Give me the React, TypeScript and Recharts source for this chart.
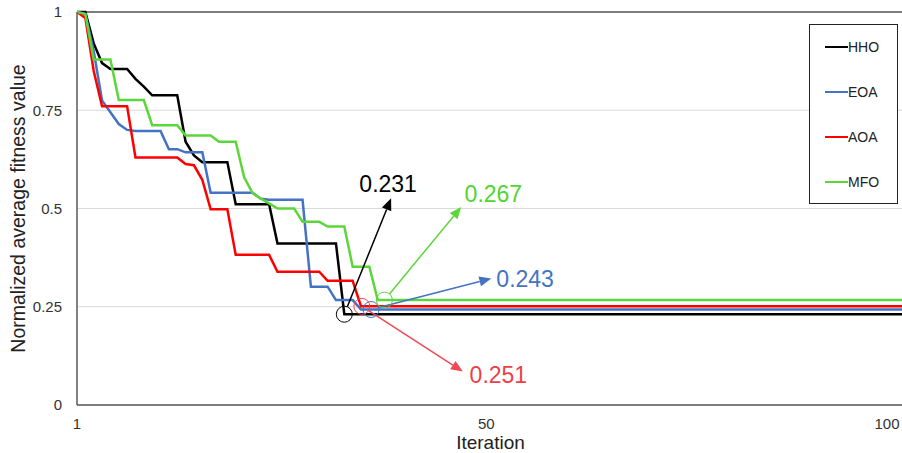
import {
  LineChart,
  Line,
  XAxis,
  YAxis,
  CartesianGrid,
  ReferenceLine,
  ReferenceDot,
  Legend,
} from "recharts";

const ITERATION_TICKS = [1, 50, 100];
const FITNESS_TICKS = [0, 0.25, 0.5, 0.75, 1];

// [iteration, normalized average fitness] break points
const HHO: [number, number][] = [
  [1, 1], [2, 1], [3, 0.92], [4, 0.87], [5, 0.855], [7, 0.855], [8, 0.83],
  [9, 0.81], [10, 0.788], [13, 0.788], [14, 0.67], [15, 0.635], [16, 0.618],
  [19, 0.618], [20, 0.511], [24, 0.511], [25, 0.411], [32, 0.411],
  [33, 0.231], [100, 0.231],
];
const EOA: [number, number][] = [
  [1, 1], [2, 0.995], [3, 0.9], [4, 0.775], [5, 0.745], [6, 0.715],
  [7, 0.7], [8, 0.697], [11, 0.697], [12, 0.651], [13, 0.651], [14, 0.643],
  [16, 0.643], [17, 0.54], [22, 0.54], [23, 0.525], [24, 0.522], [28, 0.522],
  [29, 0.301], [31, 0.301], [32, 0.267], [34, 0.267], [35, 0.243],
  [100, 0.243],
];
const AOA: [number, number][] = [
  [1, 1], [2, 0.985], [3, 0.85], [4, 0.76], [7, 0.76], [8, 0.63], [13, 0.63],
  [14, 0.613], [15, 0.61], [16, 0.573], [17, 0.498], [19, 0.498],
  [20, 0.382], [24, 0.382], [25, 0.339], [30, 0.339], [31, 0.316],
  [34, 0.316], [35, 0.251], [100, 0.251],
];
const MFO: [number, number][] = [
  [1, 1], [2, 0.995], [3, 0.879], [5, 0.879], [6, 0.776], [9, 0.776],
  [10, 0.712], [13, 0.712], [14, 0.686], [17, 0.686], [18, 0.67], [20, 0.67],
  [21, 0.58], [22, 0.54], [23, 0.525], [24, 0.513], [25, 0.5], [27, 0.5],
  [28, 0.466], [30, 0.466], [31, 0.454], [33, 0.454], [34, 0.352],
  [36, 0.352], [37, 0.267], [100, 0.267],
];

// best value reached by each algorithm, and the iteration where it is circled
const BEST_VALUES = [0.231, 0.243, 0.251, 0.267];
const BEST_AT = [33, 36.2, 35.1, 37.8];
const NAMES = ["HHO", "EOA", "AOA", "MFO"];

const SERIES = [
  { name: "HHO", points: HHO, color: "#000000" },
  { name: "EOA", points: EOA, color: "#4472C4" },
  { name: "AOA", points: AOA, color: "#FF0000" },
  { name: "MFO", points: MFO, color: "#5DD63C" },
];

// call-out layout: arrow tip and label corner, in axis units
const CALLOUTS = [
  { tip: [38.6, 0.526], label: [34.8, 0.543], color: "#000000", text: "#000000" },
  { tip: [50.6, 0.322], label: [51.2, 0.301], color: "#4472C4", text: "#4472C4" },
  { tip: [47.2, 0.085], label: [48.0, 0.055], color: "#EE4A52", text: "#EE3F48" },
  { tip: [47.0, 0.504], label: [47.4, 0.517], color: "#5DD63C", text: "#4FD62F" },
];

const FONT = "'Liberation Sans', Arial, sans-serif";

const toRows = (pts: [number, number][]) => pts.map(([it, v]) => ({ it, v }));

const arrowShape = (color: string) => (props: any) => {
  const { x1, y1, x2, y2 } = props;
  const dx = x2 - x1;
  const dy = y2 - y1;
  const len = Math.hypot(dx, dy) || 1;
  const ux = dx / len;
  const uy = dy / len;
  const gap = 8;
  const head = 12;
  const half = 5;
  const bx = x2 - ux * head;
  const by = y2 - uy * head;
  return (
    <g>
      <line
        x1={x1 + ux * gap}
        y1={y1 + uy * gap}
        x2={bx}
        y2={by}
        stroke={color}
        strokeWidth={1.5}
      />
      <polygon
        points={`${x2},${y2} ${bx - uy * half},${by + ux * half} ${bx + uy * half},${by - ux * half}`}
        fill={color}
      />
    </g>
  );
};

const labelShape = (text: string, color: string) => (props: any) => (
  <text
    x={props.cx}
    y={props.cy}
    fill={color}
    fontSize={23}
    fontFamily={FONT}
    textAnchor="start"
  >
    {text}
  </text>
);

// last label is pulled inside the frame, as the source does
const IterationTick = (props: any) => {
  const { x, y, payload } = props;
  const shift = payload.value === 100 ? -17 : 0;
  return (
    <text
      x={x + shift}
      y={y}
      dy="0.71em"
      textAnchor="middle"
      fontSize={15}
      fontFamily={FONT}
      fill="#333"
    >
      {payload.value}
    </text>
  );
};

const YTitle = (props: any) => {
  const { viewBox } = props;
  const cx = viewBox.x + 18;
  const cy = viewBox.y + viewBox.height / 2;
  return (
    <text
      x={cx}
      y={cy}
      transform={`rotate(-90, ${cx}, ${cy})`}
      textAnchor="middle"
      dominantBaseline="central"
      fontSize={19.5}
      fontFamily={FONT}
      fill="#222"
    >
      Normalized average fitness value
    </text>
  );
};

const LegendBox = () => (
  <div
    style={{
      width: 89,
      height: 180,
      border: "1px solid #222",
      boxSizing: "border-box",
      background: "#fff",
      fontFamily: FONT,
      fontSize: 14,
      color: "#222",
    }}
  >
    {SERIES.map((s, i) => (
      <div
        key={s.name}
        style={{
          position: "absolute",
          left: 16,
          top: 23 + i * 45 - 9,
          height: 18,
          display: "flex",
          alignItems: "center",
        }}
      >
        <span
          style={{
            display: "inline-block",
            width: 23,
            height: 2.5,
            background: s.color,
          }}
        />
        <span>{s.name}</span>
      </div>
    ))}
  </div>
);

export default function App() {
  return (
    <div
      style={{
        position: "absolute",
        left: 0,
        top: 0,
        width: 902,
        height: 453,
        overflow: "hidden",
        background: "#fff",
      }}
    >
      <LineChart
        width={920}
        height={453}
        margin={{ top: 12, right: 16, bottom: 0, left: 0 }}
      >
        <CartesianGrid vertical={false} stroke="#d9d9d9" strokeWidth={1} />
        <XAxis
          type="number"
          dataKey="it"
          domain={[1, 100]}
          ticks={ITERATION_TICKS}
          allowDataOverflow
          height={48}
          tickLine={false}
          tickSize={0}
          tickMargin={13}
          axisLine={{ stroke: "#595959", strokeWidth: 1.5 }}
          tick={<IterationTick />}
          label={{
            value: "Iteration",
            position: "insideBottom",
            offset: 4,
            fontSize: 19,
            fontFamily: FONT,
            fill: "#222",
          }}
        />
        <YAxis
          type="number"
          domain={[0, 1]}
          ticks={FITNESS_TICKS}
          width={77}
          tickLine={false}
          tickSize={0}
          tickMargin={15}
          axisLine={{ stroke: "#595959", strokeWidth: 1.5 }}
          tick={{ fontSize: 15, fontFamily: FONT, fill: "#333" }}
          label={{ content: <YTitle /> }}
        />
        <ReferenceLine y={1} stroke="#595959" strokeWidth={1.5} />
        {SERIES.map((s) => (
          <Line
            key={s.name}
            name={s.name}
            data={toRows(s.points)}
            dataKey="v"
            type="linear"
            stroke={s.color}
            strokeWidth={2.5}
            dot={false}
            isAnimationActive={false}
          />
        ))}
        {NAMES.map((n, i) => (
          <ReferenceDot
            key={`c-${n}`}
            x={BEST_AT[i]}
            y={BEST_VALUES[i]}
            r={8}
            fill="none"
            stroke={CALLOUTS[i].color}
            strokeWidth={1}
          />
        ))}
        {NAMES.map((n, i) => (
          <ReferenceLine
            key={`a-${n}`}
            segment={[
              { x: BEST_AT[i], y: BEST_VALUES[i] },
              { x: CALLOUTS[i].tip[0], y: CALLOUTS[i].tip[1] },
            ]}
            shape={arrowShape(CALLOUTS[i].color)}
          />
        ))}
        {NAMES.map((n, i) => (
          <ReferenceDot
            key={`t-${n}`}
            x={CALLOUTS[i].label[0]}
            y={CALLOUTS[i].label[1]}
            r={1}
            shape={labelShape(BEST_VALUES[i].toFixed(3), CALLOUTS[i].text)}
          />
        ))}
        <Legend
          layout="vertical"
          align="center"
          verticalAlign="middle"
          content={<LegendBox />}
          wrapperStyle={{ position: "absolute", left: 809, top: 24, width: 89, height: 180 }}
        />
      </LineChart>
    </div>
  );
}
